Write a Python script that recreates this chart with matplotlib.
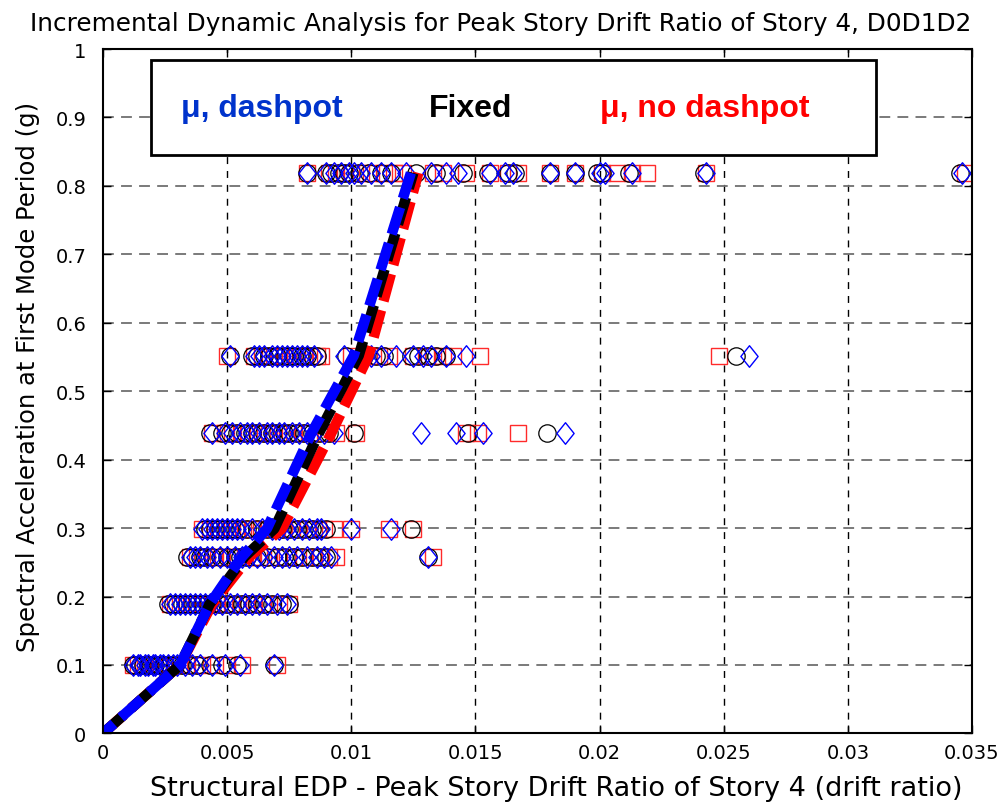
import matplotlib
matplotlib.use("Agg")
import matplotlib.pyplot as plt
from matplotlib.path import Path
from matplotlib.patches import Rectangle

# Spectral acceleration levels of the IDA stripes (g)
sa_levels = [0.100, 0.189, 0.258, 0.299, 0.439, 0.552, 0.819]

# Peak story drift ratios of story 4, one list per Sa level
edp_dashpot = [
    [0.0012, 0.0014, 0.0015, 0.0017, 0.0018, 0.0020, 0.0021, 0.0023, 0.0024, 0.0026,
     0.0028, 0.0030, 0.0033, 0.0036, 0.0039, 0.0044, 0.0049, 0.0055, 0.0069],
    [0.0027, 0.0029, 0.0031, 0.0033, 0.0035, 0.0037, 0.0039, 0.0041, 0.0043, 0.0045,
     0.0048, 0.0051, 0.0054, 0.0057, 0.0060, 0.0063, 0.0066, 0.0070, 0.0074],
    [0.0035, 0.0037, 0.0039, 0.0042, 0.0044, 0.0047, 0.0050, 0.0053, 0.0056, 0.0059,
     0.0062, 0.0065, 0.0069, 0.0072, 0.0075, 0.0078, 0.0082, 0.0086, 0.0089, 0.0092, 0.0131],
    [0.0040, 0.0042, 0.0044, 0.0046, 0.0048, 0.0050, 0.0052, 0.0054, 0.0056, 0.0060,
     0.0064, 0.0068, 0.0071, 0.0074, 0.0077, 0.0080, 0.0083, 0.0086, 0.0088, 0.0100, 0.0116],
    [0.0044, 0.0049, 0.0052, 0.0055, 0.0058, 0.0060, 0.0063, 0.0066, 0.0068, 0.0071,
     0.0073, 0.0076, 0.0079, 0.0082, 0.0085, 0.0089, 0.0093, 0.0128, 0.0142, 0.0153, 0.0186],
    [0.0051, 0.0061, 0.0063, 0.0065, 0.0068, 0.0070, 0.0072, 0.0074, 0.0076, 0.0078,
     0.0080, 0.0082, 0.0085, 0.0097, 0.0106, 0.0108, 0.0112, 0.0118, 0.0125, 0.0129,
     0.0132, 0.0138, 0.0146, 0.0260],
    [0.0082, 0.0090, 0.0093, 0.0096, 0.0099, 0.0101, 0.0104, 0.0108, 0.0112, 0.0116,
     0.0122, 0.0132, 0.0138, 0.0143, 0.0156, 0.0162, 0.0165, 0.0180, 0.0190, 0.0200,
     0.0202, 0.0213, 0.0243, 0.0346],
]
edp_fixed = [
    [0.0012, 0.0013, 0.0015, 0.0016, 0.0018, 0.0019, 0.0021, 0.0022, 0.0024, 0.0025,
     0.0027, 0.0029, 0.0032, 0.0035, 0.0038, 0.0043, 0.0048, 0.0054, 0.0069],
    [0.0026, 0.0028, 0.0030, 0.0032, 0.0034, 0.0036, 0.0038, 0.0040, 0.0042, 0.0044,
     0.0047, 0.0050, 0.0053, 0.0056, 0.0059, 0.0062, 0.0065, 0.0068, 0.0072, 0.0075],
    [0.0034, 0.0036, 0.0039, 0.0041, 0.0044, 0.0047, 0.0050, 0.0053, 0.0055, 0.0058,
     0.0062, 0.0066, 0.0070, 0.0073, 0.0077, 0.0080, 0.0084, 0.0087, 0.0090, 0.0131],
    [0.0041, 0.0043, 0.0045, 0.0047, 0.0049, 0.0051, 0.0053, 0.0055, 0.0058, 0.0062,
     0.0066, 0.0069, 0.0072, 0.0075, 0.0078, 0.0081, 0.0084, 0.0087, 0.0090, 0.0124],
    [0.0043, 0.0048, 0.0051, 0.0054, 0.0057, 0.0060, 0.0062, 0.0065, 0.0068, 0.0070,
     0.0073, 0.0075, 0.0078, 0.0081, 0.0084, 0.0087, 0.0091, 0.0101, 0.0147, 0.0179],
    [0.0051, 0.0060, 0.0062, 0.0065, 0.0067, 0.0070, 0.0073, 0.0075, 0.0077, 0.0080,
     0.0082, 0.0084, 0.0086, 0.0098, 0.0105, 0.0110, 0.0113, 0.0124, 0.0127, 0.0131,
     0.0134, 0.0138, 0.0255],
    [0.0082, 0.0090, 0.0092, 0.0095, 0.0097, 0.0099, 0.0103, 0.0107, 0.0112, 0.0116,
     0.0126, 0.0134, 0.0145, 0.0155, 0.0163, 0.0166, 0.0180, 0.0190, 0.0199, 0.0201,
     0.0212, 0.0242, 0.0345],
]
edp_nodashpot = [
    [0.0012, 0.0014, 0.0016, 0.0017, 0.0019, 0.0020, 0.0022, 0.0023, 0.0025, 0.0027,
     0.0029, 0.0031, 0.0034, 0.0037, 0.0040, 0.0045, 0.0050, 0.0056, 0.0070],
    [0.0027, 0.0029, 0.0031, 0.0034, 0.0036, 0.0038, 0.0040, 0.0042, 0.0044, 0.0046,
     0.0049, 0.0052, 0.0055, 0.0058, 0.0061, 0.0064, 0.0067, 0.0071, 0.0075],
    [0.0035, 0.0038, 0.0040, 0.0042, 0.0045, 0.0048, 0.0051, 0.0054, 0.0057, 0.0060,
     0.0063, 0.0067, 0.0071, 0.0074, 0.0077, 0.0081, 0.0085, 0.0088, 0.0091, 0.0094, 0.0133],
    [0.0040, 0.0043, 0.0045, 0.0047, 0.0050, 0.0052, 0.0054, 0.0057, 0.0060, 0.0063,
     0.0067, 0.0070, 0.0073, 0.0076, 0.0079, 0.0082, 0.0085, 0.0089, 0.0093, 0.0100,
     0.0115, 0.0125],
    [0.0044, 0.0049, 0.0052, 0.0056, 0.0059, 0.0062, 0.0064, 0.0067, 0.0069, 0.0072,
     0.0074, 0.0077, 0.0080, 0.0083, 0.0087, 0.0090, 0.0094, 0.0102, 0.0146, 0.0151, 0.0167],
    [0.0050, 0.0061, 0.0064, 0.0067, 0.0069, 0.0071, 0.0073, 0.0076, 0.0078, 0.0081,
     0.0083, 0.0086, 0.0088, 0.0100, 0.0107, 0.0111, 0.0115, 0.0125, 0.0130, 0.0133,
     0.0137, 0.0141, 0.0152, 0.0248],
    [0.0082, 0.0091, 0.0094, 0.0097, 0.0100, 0.0104, 0.0108, 0.0113, 0.0117, 0.0121,
     0.0133, 0.0137, 0.0146, 0.0156, 0.0163, 0.0167, 0.0180, 0.0190, 0.0201, 0.0207,
     0.0213, 0.0219, 0.0243, 0.0347],
]

# Median IDA curves (drift ratio at each Sa level, starting from the origin)
curve_sa = [0.0] + sa_levels
median_dashpot = [0.0, 0.0031, 0.0043, 0.0056, 0.0066, 0.0084, 0.0101, 0.0124]
median_fixed = [0.0, 0.0031, 0.0043, 0.0057, 0.0069, 0.0087, 0.0103, 0.0125]
median_nodashpot = [0.0, 0.0031, 0.0044, 0.0059, 0.0072, 0.0092, 0.0107, 0.0127]

x_ticks = [0, 0.005, 0.01, 0.015, 0.02, 0.025, 0.03, 0.035]
x_tick_labels = ["0", "0.005", "0.01", "0.015", "0.02", "0.025", "0.03", "0.035"]
y_ticks = [0, 0.1, 0.2, 0.3, 0.4, 0.5, 0.6, 0.7, 0.8, 0.9, 1.0]
y_tick_labels = ["0", "0.1", "0.2", "0.3", "0.4", "0.5", "0.6", "0.7", "0.8", "0.9", "1"]

plt.rcParams["font.family"] = ["DejaVu Sans"]

fig = plt.figure(figsize=(10.03, 8.04), dpi=100)
ax = fig.add_axes([0.1027, 0.0866, 0.8664, 0.8512])

# Slightly tall diamond, as in MATLAB's 'd' marker
diamond = Path([(0, 1), (0.8, 0), (0, -1), (-0.8, 0), (0, 1)],
               [Path.MOVETO, Path.LINETO, Path.LINETO, Path.LINETO, Path.CLOSEPOLY])

def stripe(values):
    xs, ys = [], []
    for sa, row in zip(sa_levels, values):
        xs.extend(row)
        ys.extend([sa] * len(row))
    return xs, ys

xs, ys = stripe(edp_nodashpot)
ax.plot(xs, ys, linestyle="none", marker="s", markersize=12, markerfacecolor="none",
        markeredgecolor="#ff2a2a", markeredgewidth=1.0, zorder=3)
xs, ys = stripe(edp_fixed)
ax.plot(xs, ys, linestyle="none", marker="o", markersize=12.5, markerfacecolor="none",
        markeredgecolor="black", markeredgewidth=0.9, zorder=4)
xs, ys = stripe(edp_dashpot)
ax.plot(xs, ys, linestyle="none", marker=diamond, markersize=15.5, markerfacecolor="none",
        markeredgecolor="#0000ff", markeredgewidth=1.0, zorder=5)

dash = (2.7, 0.9)
ax.plot(median_nodashpot, curve_sa, color="#ff0000", linewidth=7.5,
        linestyle=(0, dash), dash_capstyle="butt", zorder=6)
ax.plot(median_fixed, curve_sa, color="black", linewidth=7.5,
        linestyle=(0, dash), dash_capstyle="butt", zorder=7)
ax.plot(median_dashpot, curve_sa, color="#0000ff", linewidth=7.5,
        linestyle=(1.3, dash), dash_capstyle="butt", zorder=8)

ax.set_xlim(0, 0.035)
ax.set_ylim(0, 1)
ax.set_xticks(x_ticks)
ax.set_xticklabels(x_tick_labels)
ax.set_yticks(y_ticks)
ax.set_yticklabels(y_tick_labels)
ax.tick_params(direction="in", length=6, width=1, labelsize=14, top=True, right=True)
ax.tick_params(axis="y", pad=12)
ax.tick_params(axis="x", pad=7)

# Grid: black dashed verticals, grey dashed horizontals
for xv in x_ticks[1:-1]:
    ax.axvline(xv, color="black", linewidth=1.0, linestyle=(0, (5, 5)), zorder=1)
for yv in y_ticks[1:-1]:
    ax.axhline(yv, color="#707070", linewidth=1.3, linestyle=(0, (6, 4)), zorder=1)

for spine in ax.spines.values():
    spine.set_linewidth(1.5)
    spine.set_zorder(10)

# Title centred on the figure rather than on the axes
ax.set_title("Incremental Dynamic Analysis for Peak Story Drift Ratio of Story 4, D0D1D2",
             fontsize=17.8, pad=14, x=0.458)
ax.set_xlabel("Structural EDP - Peak Story Drift Ratio of Story 4 (drift ratio)",
              fontsize=19.5)
ax.xaxis.set_label_coords(0.521, -0.061)
ax.set_ylabel("Spectral Acceleration at First Mode Period (g)", fontsize=17.5)
ax.yaxis.set_label_coords(-0.072, 0.522)

# Legend box with coloured labels
ax.add_patch(Rectangle((0.0552, 0.845), 0.8343, 0.139, transform=ax.transAxes,
                       facecolor="white", edgecolor="black", linewidth=2, zorder=11))
legend_items = [("\u03bc, dashpot", "#0033cc", 0.183),
                ("Fixed", "black", 0.4235),
                ("\u03bc, no dashpot", "#ff0000", 0.693)]
for label, color, xc in legend_items:
    ax.text(xc, 0.914, label, transform=ax.transAxes, ha="center", va="center",
            fontsize=23, fontweight="bold", color=color, zorder=12,
            family=["Liberation Sans", "DejaVu Sans"])

fig.savefig("out.png", dpi=100)
